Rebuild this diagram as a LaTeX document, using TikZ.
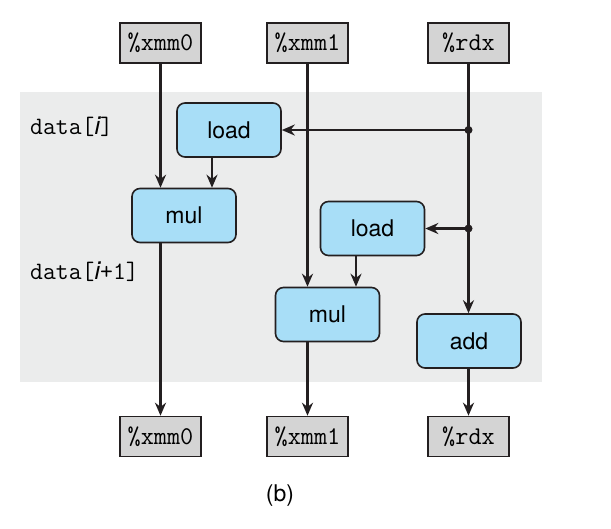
\documentclass[tikz,border=0pt]{standalone}
\usepackage{fontspec}
\setsansfont{TeX Gyre Heros}
\usetikzlibrary{arrows.meta}
\definecolor{bgc}{HTML}{EBECEC}
\definecolor{opc}{HTML}{A8DEF7}
\definecolor{regc}{HTML}{D4D4D4}
\definecolor{linec}{HTML}{231F20}
\begin{document}
\begin{tikzpicture}[x=1pt,y=-1pt,
  reg/.style={draw=linec,fill=regc,line width=1.6pt,minimum width=81pt,minimum height=40pt,inner sep=0pt,font=\fontsize{25.5}{28}\selectfont\ttfamily},
  op/.style={draw=linec,fill=opc,line width=1.6pt,rounded corners=8pt,minimum width=104pt,minimum height=54pt,inner sep=0pt,font=\fontsize{23}{26}\selectfont\sffamily},
  lab/.style={anchor=west,inner sep=0pt,font=\fontsize{25}{28}\selectfont\ttfamily},
  arr/.style={draw=linec,line width=2.2pt,-{Stealth[length=13pt,width=11pt]}},
  ln/.style={draw=linec,line width=2.2pt},
  dotc/.style={circle,fill=linec,inner sep=0pt,minimum size=8pt}]
\useasboundingbox (0,0) rectangle (611,528);
\fill[bgc] (20,92) rectangle (542,382);
% registers
\node[reg] (x0t) at (160.5,43) {\%xmm0};
\node[reg] (x1t) at (307.5,43) {\%xmm1};
\node[reg] (rdt) at (468.5,43) {\%rdx};
\node[reg] (x0b) at (160.5,436.5) {\%xmm0};
\node[reg] (x1b) at (307.5,436.5) {\%xmm1};
\node[reg] (rdb) at (468.5,436.5) {\%rdx};
% ops
\node[op] (load1) at (229,130) {load};
\node[op] (mul1) at (184,215.5) {mul};
\node[op] (load2) at (372.5,228.5) {load};
\node[op] (mul2) at (327.5,314.5) {mul};
\node[op] (add) at (469,341) {add};
% labels
\node[lab] (li) at (30,127) {data[{\sffamily\itshape i}]};
\node[lab] (li1) at (30,272) {data[{\sffamily\itshape i}+1]};
\node[inner sep=0pt,font=\fontsize{23}{26}\selectfont\sffamily] (cap) at (280,496) {(b)};
% junctions
\coordinate (j1) at (468.5,130);
\coordinate (j2) at (468.5,228.5);
% connectors
\draw[arr] (x0t.south) -- (x0t.south |- mul1.north);
\draw[arr] (load1.south -| 212,0) -- (212,0 |- mul1.north);
\draw[arr] (x1t.south) -- (x1t.south |- mul2.north);
\draw[arr] (load2.south -| 356,0) -- (356,0 |- mul2.north);
\draw[ln] (rdt.south) -- (j1);
\draw[ln] (j1) -- (j2);
\draw[arr] (j2) -- (j2 |- add.north);
\draw[arr] (j1) -- (load1.east);
\draw[arr] (j2) -- (load2.east);
\node[dotc] (d1) at (j1) {};
\node[dotc] (d2) at (j2) {};
\draw[arr] (x0t.south |- mul1.south) -- (x0b.north);
\draw[arr] (x1t.south |- mul2.south) -- (x1b.north);
\draw[arr] (add.south -| rdb.north) -- (rdb.north);
\end{tikzpicture}
\end{document}
